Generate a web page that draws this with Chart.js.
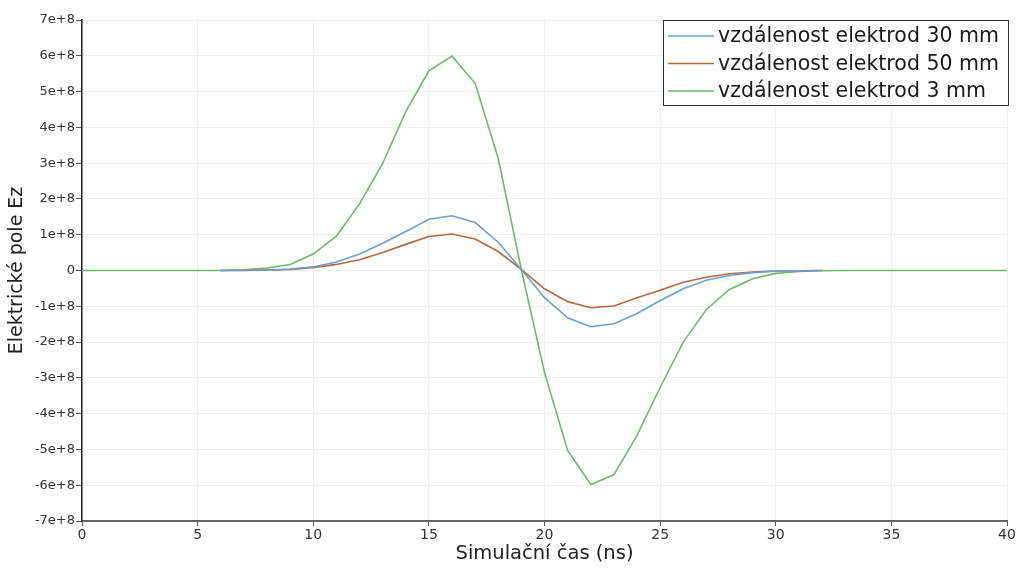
<!DOCTYPE html>
<html>
<head>
<meta charset="utf-8">
<script src="https://cdn.jsdelivr.net/npm/chart.js@4/dist/chart.umd.min.js"></script>
<style>
  html, body { margin: 0; padding: 0; background: #fff; }
  #wrap { width: 1021px; height: 569px; }
</style>
</head>
<body>
<div id="wrap"><canvas id="chart" width="1021" height="569"></canvas></div>
<script>
// Simulation time in ns (one sample per ns)
const timeNs = [];
for (let t = 0; t <= 40; t++) timeNs.push(t);

// Field values in units of 1e8 (null = not plotted)
const field30mm = [null, null, null, null, null, null,
  0, 0.005, 0.015, 0.04, 0.10, 0.24, 0.46, 0.76, 1.09, 1.43, 1.53, 1.34, 0.79, 0.03,
  -0.76, -1.32, -1.57, -1.49, -1.20, -0.84, -0.51, -0.27, -0.14, -0.06, -0.02, -0.005, 0,
  null, null, null, null, null, null, null, null];
const field50mm = [null, null, null, null, null, null,
  0, 0.003, 0.01, 0.03, 0.075, 0.17, 0.30, 0.50, 0.73, 0.95, 1.02, 0.88, 0.53, 0.03,
  -0.51, -0.87, -1.04, -0.99, -0.76, -0.55, -0.33, -0.19, -0.09, -0.04, -0.015, -0.005, 0,
  null, null, null, null, null, null, null, null];
const field3mm = [0, 0, 0, 0, 0, 0,
  0, 0.02, 0.07, 0.17, 0.46, 0.96, 1.86, 2.99, 4.44, 5.58, 5.99, 5.23, 3.13, 0.02,
  -2.85, -5.03, -5.98, -5.71, -4.61, -3.27, -2.00, -1.09, -0.53, -0.23, -0.08, -0.03, -0.005,
  0, 0, 0, 0, 0, 0, 0, 0];

const seriesLabels = ['vzdálenost elektrod 30 mm', 'vzdálenost elektrod 50 mm', 'vzdálenost elektrod 3 mm'];
const seriesColors = ['#6b9fd6', '#b5683f', '#68bd68'];
const seriesValues = [field30mm, field50mm, field3mm];

const yTicks = [-7, -6, -5, -4, -3, -2, -1, 0, 1, 2, 3, 4, 5, 6, 7];
const xTicks = [0, 5, 10, 15, 20, 25, 30, 35, 40];

const FONT = '"DejaVu Sans", sans-serif';

function toPoints(values) {
  const pts = [];
  values.forEach((v, i) => {
    if (v !== null) pts.push({ x: timeNs[i], y: v * 1e8 });
  });
  return pts;
}

function fmtSci(v) {
  const n = Math.round(v / 1e8);
  if (n === 0) return '0';
  return n + 'e+8';
}

// Boxed legend in the top-right corner, like the original
const boxLegend = {
  id: 'boxLegend',
  afterDraw(chart) {
    const ctx = chart.ctx;
    const left = 663, top = 20, right = 1008, bottom = 105;
    ctx.save();
    ctx.fillStyle = '#fff';
    ctx.fillRect(left, top, right - left, bottom - top);
    ctx.strokeStyle = '#333';
    ctx.lineWidth = 1;
    ctx.strokeRect(left + 0.5, top + 0.5, right - left, bottom - top);
    ctx.font = '20.5px ' + FONT;
    ctx.textBaseline = 'middle';
    chart.data.datasets.forEach((ds, i) => {
      const y = 36 + i * 27.5;
      ctx.strokeStyle = ds.borderColor;
      ctx.lineWidth = 1.5;
      ctx.beginPath();
      ctx.moveTo(668, y);
      ctx.lineTo(714, y);
      ctx.stroke();
      ctx.fillStyle = '#1a1a1a';
      ctx.fillText(ds.label, 718, y + 1);
    });
    ctx.restore();
  }
};

const ctx = document.getElementById('chart').getContext('2d');
new Chart(ctx, {
  type: 'line',
  data: {
    datasets: seriesValues.map((vals, i) => ({
      label: seriesLabels[i],
      data: toPoints(vals),
      borderColor: seriesColors[i],
      borderWidth: 1.6,
      pointRadius: 0,
      fill: false,
      tension: 0
    }))
  },
  options: {
    responsive: false,
    animation: false,
    layout: { padding: { top: 20, right: 14, left: 0, bottom: 0 } },
    plugins: {
      legend: { display: false },
      tooltip: { enabled: false }
    },
    scales: {
      x: {
        type: 'linear',
        min: 0,
        max: 40,
        afterBuildTicks(axis) { axis.ticks = xTicks.map(v => ({ value: v })); },
        afterFit(axis) { axis.height = 48; },
        grid: { color: '#efefef', tickColor: '#555', tickLength: 5 },
        border: { color: '#666', width: 2 },
        ticks: { color: '#333', font: { family: FONT, size: 14 }, padding: 1, maxRotation: 0 },
        title: { display: true, text: 'Simulační čas (ns)', color: '#222', font: { family: FONT, size: 19.5 }, padding: { top: 0, bottom: 3 } }
      },
      y: {
        min: -7e8,
        max: 7e8,
        afterBuildTicks(axis) { axis.ticks = yTicks.map(v => ({ value: v * 1e8 })); },
        afterFit(axis) { axis.width = 82; },
        grid: { color: '#efefef', tickColor: '#555', tickLength: 6 },
        border: { color: '#222', width: 1.5 },
        ticks: { color: '#333', font: { family: FONT, size: 13 }, padding: 1, callback: v => fmtSci(v) },
        title: { display: true, text: 'Elektrické pole Ez', color: '#222', font: { family: FONT, size: 19 }, padding: { top: 6, bottom: 2 } }
      }
    }
  },
  plugins: [boxLegend]
});
</script>
</body>
</html>
